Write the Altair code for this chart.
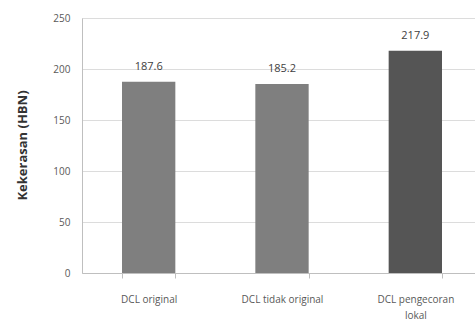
import altair as alt
import pandas as pd

categories = ["DCL original", "DCL tidak original", "DCL pengecoran lokal"]
values = [187.6, 185.2, 217.9]
colors = ["#7f7f7f", "#7f7f7f", "#555555"]

df = pd.DataFrame({"cat": categories, "val": values, "col": colors})

x = alt.X(
    "cat:N",
    sort=categories,
    title=None,
    scale=alt.Scale(paddingInner=0.6, paddingOuter=0.3),
    axis=alt.Axis(
        labelAngle=0,
        labelFontSize=10,
        labelColor="#595959",
        labelFont="Open Sans",
        labelPadding=16,
        labelBaseline="top",
        labelLineHeight=16,
        tickBand="extent",
        tickSize=5,
        tickColor="#bfbfbf",
        domainColor="#bfbfbf",
        labelExpr="datum.label == 'DCL pengecoran lokal' ? ['DCL pengecoran', 'lokal'] : datum.label",
    ),
)
y = alt.Y(
    "val:Q",
    title="Kekerasan (HBN)",
    scale=alt.Scale(domain=[0, 250]),
    axis=alt.Axis(
        values=[0, 50, 100, 150, 200, 250],
        labelFontSize=10,
        labelColor="#595959",
        labelFont="Open Sans",
        labelPadding=12,
        ticks=False,
        domainColor="#bfbfbf",
        gridColor="#dcdcdc",
        titleFontSize=13,
        titleFont="Open Sans",
        titleFontWeight="bold",
        titleColor="#333333",
        titleX=-60,
        titleY=127,
        titleAngle=270,
        titleAlign="center",
        titleBaseline="middle",
    ),
)

bars = alt.Chart(df).mark_bar().encode(x=x, y=y, color=alt.Color("col:N", scale=None))
labels = alt.Chart(df).mark_text(dy=-15, fontSize=11, color="#404040", font="Open Sans").encode(
    x=x, y=y, text=alt.Text("val:Q", format=".1f")
)

chart = (
    (bars + labels)
    .properties(
        width=400,
        height=255,
        autosize=alt.AutoSizeParams(type="none"),
        padding={"left": 82, "top": 18, "right": -7, "bottom": 51},
    )
    .configure_view(stroke=None)
    .configure(background="white")
)

chart.save("out.html", embed_options={"renderer": "svg", "actions": False})
